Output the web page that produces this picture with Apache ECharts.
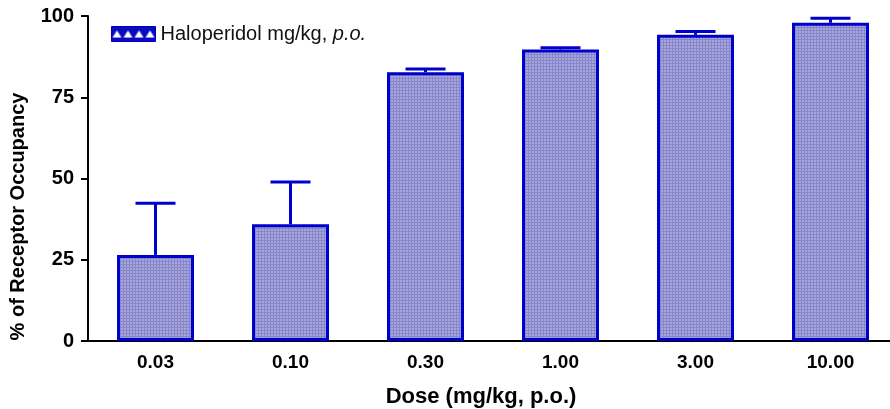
<!DOCTYPE html>
<html><head><meta charset="utf-8">
<script src="https://cdn.jsdelivr.net/npm/echarts@6/dist/echarts.min.js"></script>
<style>html,body{margin:0;padding:0;background:#fff}#c{width:890px;height:409px}</style>
</head><body><div id="c"></div>
<script>
const categories = ['0.03','0.10','0.30','1.00','3.00','10.00'];
const occupancy = [26.5, 35.9, 82.7, 89.7, 94.2, 97.9];
const errorTop = [42.4, 48.9, 83.7, 90.2, 95.2, 99.3];
const yTicks = [0, 25, 50, 75, 100];

function makePattern(){
  const c = document.createElement('canvas');
  c.width = 3; c.height = 3;
  const g = c.getContext('2d');
  g.fillStyle = '#a6a6dc'; g.fillRect(0,0,3,3);
  g.fillStyle = '#8686c8'; g.fillRect(0,0,1,3); g.fillRect(0,0,3,1);
  return c;
}
function makeLegendPattern(){
  const c = document.createElement('canvas');
  c.width = 11; c.height = 15;
  const g = c.getContext('2d');
  g.fillStyle = '#0a0ac0'; g.fillRect(0,0,11,15);
  g.fillStyle = '#ffffff';
  g.beginPath(); g.moveTo(1,11); g.lineTo(5.5,4); g.lineTo(10,11); g.closePath(); g.fill();
  return c;
}
const chart = echarts.init(document.getElementById('c'), null, {renderer:'canvas'});
const font = 'Arial, "Liberation Sans", sans-serif';
chart.setOption({
  animation:false,
  grid:{left:88, top:16, width:810, height:325, containLabel:false, outerBoundsMode:'none'},
  legend:{
    left:111, top:24, padding:0, itemWidth:44, itemHeight:15, itemGap:5,
    icon:'rect',
    data:[{name:'Haloperidol', itemStyle:{color:{image:makeLegendPattern(), repeat:'repeat'}, borderColor:'#0000cc', borderWidth:1}}],
    formatter:()=>'{a|Haloperidol mg/kg, }{b|p.o.}',
    textStyle:{fontFamily:font, fontSize:20, color:'#111',
      rich:{a:{fontFamily:font,fontSize:20,color:'#111'}, b:{fontFamily:font,fontSize:20,color:'#111',fontStyle:'italic'}}}
  },
  xAxis:{
    type:'category', data:categories,
    axisLine:{lineStyle:{color:'#000', width:2}},
    axisTick:{show:false},
    axisLabel:{fontFamily:font, fontSize:19, fontWeight:'bold', color:'#000', margin:12},
    name:'Dose (mg/kg, p.o.)', nameLocation:'middle', nameGap:45,
    nameTextStyle:{fontFamily:font, fontSize:22, fontWeight:'bold', color:'#000', padding:[0,24,0,0]}
  },
  yAxis:{
    type:'value', min:0, max:100, interval:25,
    axisLine:{show:true, lineStyle:{color:'#000', width:2}},
    axisTick:{show:true, length:7, lineStyle:{color:'#000', width:2}},
    splitLine:{show:false},
    axisLabel:{fontFamily:font, fontSize:20, fontWeight:'bold', color:'#000', margin:14,
      formatter:v=>yTicks.includes(v)?String(v):''},
    name:'% of Receptor Occupancy', nameLocation:'middle', nameGap:60, nameRotate:90,
    nameTextStyle:{fontFamily:font, fontSize:20, fontWeight:'bold', color:'#000', padding:[0,76,0,0]}
  },
  series:[
    {
      name:'Haloperidol', type:'bar', data:occupancy, barWidth:77,
      itemStyle:{color:{image:makePattern(), repeat:'repeat'}, borderColor:'#0000cc', borderWidth:3},
      z:2
    },
    {
      type:'custom', name:'err', z:1,
      data:occupancy.map((v,i)=>[i, v, errorTop[i]]),
      renderItem:(params, api)=>{
        const x = api.coord([api.value(0), api.value(1)])[0];
        const yb = api.coord([api.value(0), api.value(1)])[1];
        const yt = api.coord([api.value(0), api.value(2)])[1];
        const hw = 20;
        const st = {stroke:'#0000cc', lineWidth:3};
        return {type:'group', children:[
          {type:'line', shape:{x1:x, y1:yb, x2:x, y2:yt}, style:st},
          {type:'line', shape:{x1:x-hw, y1:yt, x2:x+hw, y2:yt}, style:st}
        ]};
      }
    }
  ]
});
</script></body></html>
